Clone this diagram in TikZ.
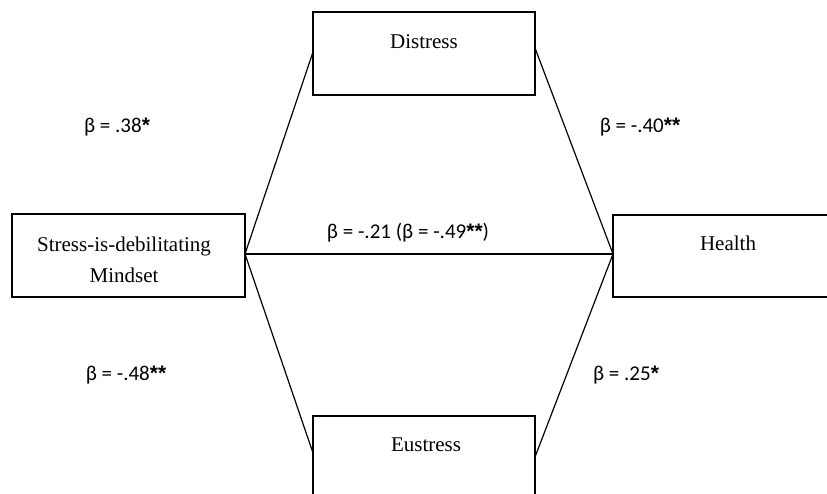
\documentclass[tikz,border=0pt]{standalone}
\usepackage{fontspec}
\setmainfont{Liberation Serif}
\newfontfamily\labfont{Carlito}
\newfontfamily\starfont{Liberation Sans}
\newcommand\bstar{{\starfont\bfseries *}}
\begin{document}
\begin{tikzpicture}[x=1pt,y=1pt,
  box/.style={draw, line width=1.3pt, inner sep=0pt},
  conn/.style={line width=1.2pt},
  boxtext/.style={font=\fontsize{21}{31}\selectfont, align=center, inner sep=0pt},
  coef/.style={font=\labfont\fontsize{21}{25}\selectfont, inner sep=0pt}]
\useasboundingbox (0,0) rectangle (827,494);
\begin{scope}
\clip (0,0) rectangle (827,494);
% boxes
\draw[box] (12,197) rectangle (245,280);
\draw[box] (313,399) rectangle (535,482);
\draw[box] (313,-20) rectangle (535,78);
\draw[box] (613,197) rectangle (850,279);
\end{scope}
\node[boxtext] (mind) at (124,234) {Stress-is-debilitating\\Mindset};
\node[boxtext] (dis) at (424,452) {Distress};
\node[boxtext] (eus) at (426,49) {Eustress};
\node[boxtext] (hea) at (728,251) {Health};
% connector endpoints
\coordinate (mR) at (245,240);
\coordinate (dL) at (313,442);
\coordinate (dR) at (535,446);
\coordinate (eL) at (313,41);
\coordinate (eR) at (535,37);
\coordinate (hL) at (613,240);
\draw[conn] (mR) -- (dL);
\draw[conn] (mR) -- (eL);
\draw[conn] (mR) -- (hL);
\draw[conn] (dR) -- (hL);
\draw[conn] (eR) -- (hL);
% labels
\node[coef] (l1) at (117,367) {β = .38\bstar};
\node[coef] (l2) at (640,367) {β = -.40\bstar\bstar};
\node[coef] (l3) at (126,119) {β = -.48\bstar\bstar};
\node[coef] (l4) at (626,119) {β = .25\bstar};
\node[coef] (l5) at (408,261) {β = -.21 (β = -.49\bstar\bstar)};
\end{tikzpicture}
\end{document}
